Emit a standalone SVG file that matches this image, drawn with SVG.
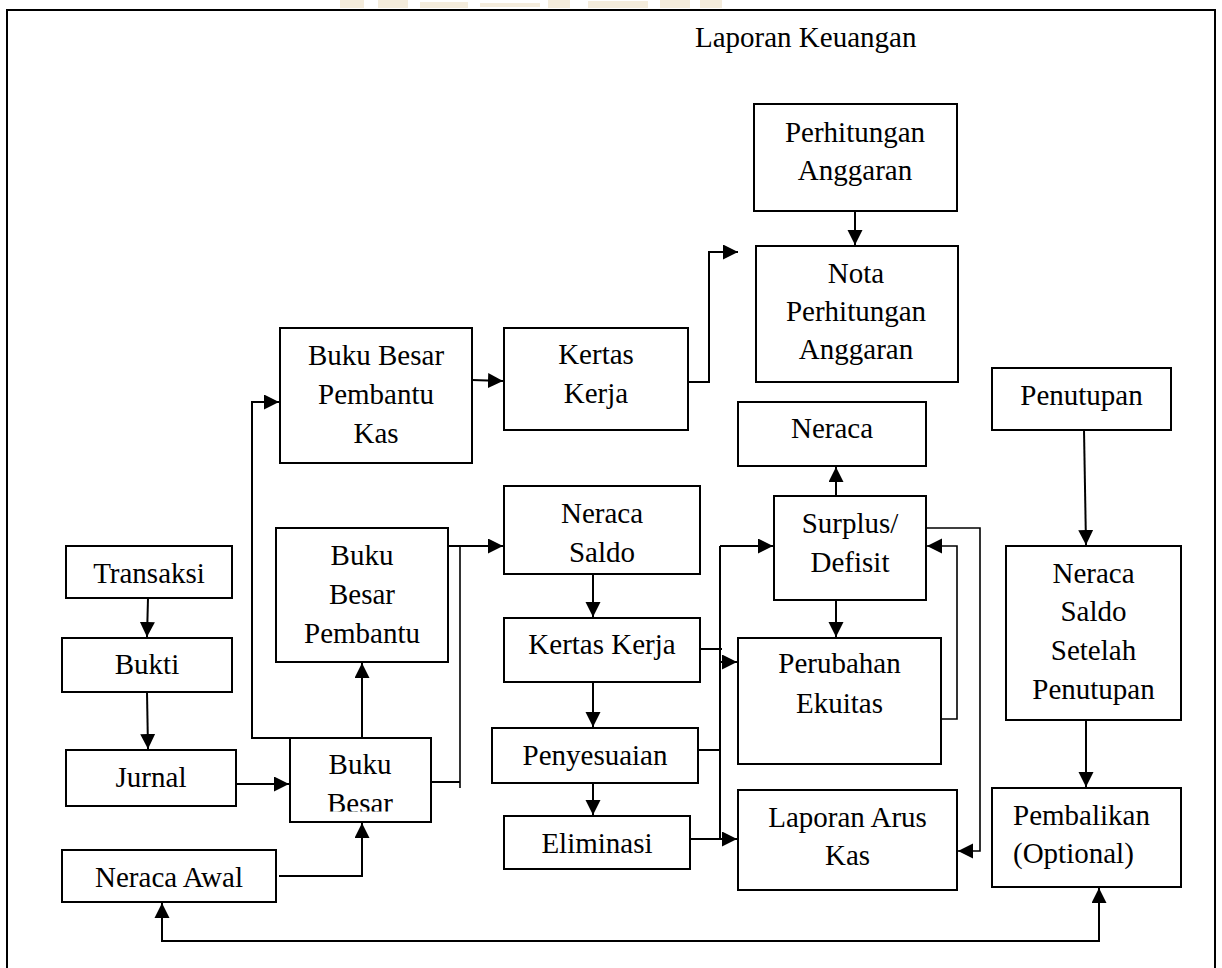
<svg xmlns="http://www.w3.org/2000/svg" width="1222" height="968" viewBox="0 0 1222 968">
<style>
.box{fill:#fff;stroke:#000;stroke-width:2}
text{font-family:'Liberation Serif','Tinos','Times New Roman','DejaVu Serif','Noto Serif',serif;font-size:29px;fill:#000}
.t{text-anchor:middle}
.ts{text-anchor:start}
.c{fill:none;stroke:#000;stroke-width:2}
.c1{fill:none;stroke:#000;stroke-width:1.6}
</style>
<defs>
<marker id="ah" markerUnits="userSpaceOnUse" markerWidth="16" markerHeight="16" refX="15" refY="7.5" orient="auto">
<path d="M0,0 L15,7.5 L0,15 z" fill="#000"/>
</marker>
<marker id="ahs" markerUnits="userSpaceOnUse" markerWidth="16" markerHeight="16" refX="0" refY="7.5" orient="auto">
<path d="M15,0 L0,7.5 L15,15 z" fill="#000"/>
</marker>
<clipPath id="bbclip"><rect x="291" y="739" width="139" height="72.5"/></clipPath>
</defs>
<rect width="1222" height="968" fill="#fff"/>
<g id="watermark" fill="#f4ecdc">
<rect x="340" y="0" width="24" height="8"/>
<rect x="378" y="0" width="30" height="8"/>
<rect x="420" y="2" width="48" height="6"/>
<rect x="480" y="3" width="60" height="4"/>
<rect x="548" y="0" width="22" height="8"/>
<rect x="588" y="1" width="60" height="7"/>
<rect x="660" y="0" width="30" height="8"/>
<rect x="700" y="0" width="22" height="8"/>
</g>
<rect id="frame" x="7" y="10" width="1208" height="1000" fill="none" stroke="#000" stroke-width="2"/>
<text id="title" class="ts" x="695" y="47" font-family="Liberation Serif, serif">Laporan Keuangan</text>

<g id="connectors">
<path class="c" d="M148,598 L147,637" marker-end="url(#ah)"/>
<path class="c" d="M147,692 L148,749" marker-end="url(#ah)"/>
<path class="c" d="M236,784 H289" marker-end="url(#ah)"/>
<path class="c" d="M279,876 H362 V823" marker-end="url(#ah)"/>
<path class="c" d="M362,738 V663" marker-end="url(#ah)"/>
<path class="c" d="M290,738 H252 V402 H279" marker-end="url(#ah)"/>
<path class="c" d="M431,782 H460"/>
<path class="c1" d="M460,546 V788"/>
<path class="c" d="M448,546 H503" marker-end="url(#ah)"/>
<path class="c" d="M472,380 L503,381" marker-end="url(#ah)"/>
<path class="c" d="M688,382 H709 V252 H738" marker-end="url(#ah)"/>
<path class="c" d="M855,211 V245" marker-end="url(#ah)"/>
<path class="c" d="M593,574 V617" marker-end="url(#ah)"/>
<path class="c" d="M593,682 V727" marker-end="url(#ah)"/>
<path class="c" d="M593,783 V815" marker-end="url(#ah)"/>
<path class="c" d="M700,649 H722"/>
<path class="c" d="M696,750 H720"/>
<path class="c" d="M720,546 V839"/>
<path class="c" d="M720,546 H773" marker-end="url(#ah)"/>
<path class="c" d="M720,662 H737" marker-end="url(#ah)"/>
<path class="c" d="M687,839 H737" marker-end="url(#ah)"/>
<path class="c" d="M836,500 V467" marker-end="url(#ah)"/>
<path class="c" d="M836,600 V637" marker-end="url(#ah)"/>
<path class="c1" d="M941,719 H957 V546 H927" marker-end="url(#ah)"/>
<path class="c1" d="M926,528 H980 V851 H958" marker-end="url(#ah)"/>
<path class="c" d="M1084,430 L1086,545" marker-end="url(#ah)"/>
<path class="c" d="M1086,720 V787" marker-end="url(#ah)"/>
<path class="c" d="M162,903 V941 H1099 V888" marker-start="url(#ahs)" marker-end="url(#ah)"/>
</g>

<g id="perhitungan-anggaran">
<rect class="box" x="754" y="104" width="203" height="107"/>
<text class="t" x="855" y="142">Perhitungan</text>
<text class="t" x="855" y="180">Anggaran</text>
</g>
<g id="nota-perhitungan-anggaran">
<rect class="box" x="756" y="246" width="202" height="136"/>
<text class="t" x="856" y="283">Nota</text>
<text class="t" x="856" y="321">Perhitungan</text>
<text class="t" x="856" y="359">Anggaran</text>
</g>
<g id="buku-besar-pembantu-kas">
<rect class="box" x="280" y="328" width="192" height="135"/>
<text class="t" x="376" y="365">Buku Besar</text>
<text class="t" x="376" y="404">Pembantu</text>
<text class="t" x="376" y="443">Kas</text>
</g>
<g id="kertas-kerja-1">
<rect class="box" x="504" y="328" width="184" height="102"/>
<text class="t" x="596" y="364">Kertas</text>
<text class="t" x="596" y="403">Kerja</text>
</g>
<g id="neraca">
<rect class="box" x="738" y="402" width="188" height="64"/>
<text class="t" x="832" y="438">Neraca</text>
</g>
<g id="penutupan">
<rect class="box" x="992" y="368" width="179" height="62"/>
<text class="t" x="1081.5" y="405">Penutupan</text>
</g>
<g id="buku-besar-pembantu">
<rect class="box" x="276" y="528" width="172" height="134"/>
<text class="t" x="362" y="565">Buku</text>
<text class="t" x="362" y="604">Besar</text>
<text class="t" x="362" y="643">Pembantu</text>
</g>
<g id="neraca-saldo">
<rect class="box" x="504" y="486" width="196" height="88"/>
<text class="t" x="602" y="523">Neraca</text>
<text class="t" x="602" y="562">Saldo</text>
</g>
<g id="surplus-defisit">
<rect class="box" x="774" y="496" width="152" height="104"/>
<text class="t" x="850" y="533">Surplus/</text>
<text class="t" x="850" y="572">Defisit</text>
</g>
<g id="transaksi">
<rect class="box" x="66" y="546" width="166" height="52"/>
<text class="t" x="149" y="583">Transaksi</text>
</g>
<g id="neraca-saldo-setelah-penutupan">
<rect class="box" x="1006" y="546" width="175" height="174"/>
<text class="t" x="1093.5" y="583">Neraca</text>
<text class="t" x="1093.5" y="621">Saldo</text>
<text class="t" x="1093.5" y="660">Setelah</text>
<text class="t" x="1093.5" y="699">Penutupan</text>
</g>
<g id="kertas-kerja-2">
<rect class="box" x="504" y="618" width="196" height="64"/>
<text class="t" x="602" y="654">Kertas Kerja</text>
</g>
<g id="perubahan-ekuitas">
<rect class="box" x="738" y="638" width="203" height="126"/>
<text class="t" x="839.5" y="673">Perubahan</text>
<text class="t" x="839.5" y="713">Ekuitas</text>
</g>
<g id="bukti">
<rect class="box" x="62" y="638" width="170" height="54"/>
<text class="t" x="147" y="674">Bukti</text>
</g>
<g id="penyesuaian">
<rect class="box" x="492" y="728" width="206" height="55"/>
<text class="t" x="595" y="765">Penyesuaian</text>
</g>
<g id="buku-besar">
<rect class="box" x="290" y="738" width="141" height="84"/>
<g clip-path="url(#bbclip)">
<text class="t" x="360" y="774">Buku</text>
<text class="t" x="360" y="813">Besar</text>
</g>
</g>
<g id="jurnal">
<rect class="box" x="66" y="750" width="170" height="56"/>
<text class="t" x="151" y="787">Jurnal</text>
</g>
<g id="laporan-arus-kas">
<rect class="box" x="738" y="790" width="219" height="100"/>
<text class="t" x="847.5" y="827">Laporan Arus</text>
<text class="t" x="847.5" y="865">Kas</text>
</g>
<g id="pembalikan">
<rect class="box" x="992" y="788" width="189" height="99"/>
<text class="ts" x="1013" y="825">Pembalikan</text>
<text class="ts" x="1013" y="863">(Optional)</text>
</g>
<g id="eliminasi">
<rect class="box" x="504" y="816" width="186" height="53"/>
<text class="t" x="597" y="853">Eliminasi</text>
</g>
<g id="neraca-awal">
<rect class="box" x="62" y="850" width="214" height="52"/>
<text class="t" x="169" y="887">Neraca Awal</text>
</g>
</svg>
